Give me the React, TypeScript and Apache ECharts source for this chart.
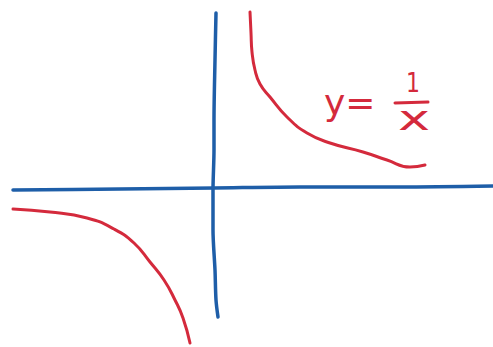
import React, { useEffect, useRef } from "react";
import * as echarts from "echarts";

// Hand-drawn sketch of y = 1/x, coordinates in sketch units (origin at the axes' crossing, y up)
const upperBranch: [number, number][] = [
  [36, 176], [37, 155], [38, 136], [41, 118], [46, 104], [56, 91],
  [73, 71], [93, 55], [116, 45], [149, 36], [173, 28], [196, 21], [211, 23],
];
const lowerBranch: [number, number][] = [
  [-201, -21], [-164, -24], [-127, -30], [-100, -41], [-80, -55], [-64, -74],
  [-50, -92], [-39, -112], [-31, -130], [-24, -155],
];
const verticalAxis: [number, number][] = [
  [2, 175], [1, 128], [0, 68], [0, 38], [-1, -2], [-1, -42], [1, -82], [2, -112], [4, -129],
];
const horizontalAxis: [number, number][] = [
  [-201, -2], [-94, -1], [0, 0], [86, 1], [186, 1], [279, 2],
];
const xRange = [-214, 279];
const yRange = [-159, 188];
const labelLeft = "y=";
const labelNumerator = "1";
const labelDenominator = "x";

const RED = "#d42a3c";
const BLUE = "#1e5ea8";

export default function App() {
  const ref = useRef<HTMLDivElement>(null);
  useEffect(() => {
    const chart = echarts.init(ref.current!, null, { renderer: "svg" });
    const line = (data: [number, number][], color: string, width: number, smooth: number) => ({
      type: "line",
      data,
      smooth,
      symbol: "none",
      lineStyle: { color, width, cap: "round", join: "round" },
      silent: true,
    });
    chart.setOption({
      animation: false,
      backgroundColor: "#ffffff",
      grid: { left: 0, right: 0, top: 0, bottom: 0 },
      xAxis: { type: "value", min: xRange[0], max: xRange[1], show: false },
      yAxis: { type: "value", min: yRange[0], max: yRange[1], show: false },
      series: [
        line(horizontalAxis, BLUE, 3.5, 0.3),
        line(verticalAxis, BLUE, 3.5, 0.3),
        line(upperBranch, RED, 3, 0.5),
        line(lowerBranch, RED, 3, 0.5),
      ],
      graphic: [
        {
          type: "text",
          left: 324,
          top: 84,
          style: {
            text: labelLeft,
            fill: RED,
            font: "36px 'DejaVu Sans'",
          },
        },
        {
          type: "text",
          left: 406,
          top: 70,
          scaleY: 1.2,
          style: { text: labelNumerator, fill: RED, font: "22px 'DejaVu Sans'" },
        },
        {
          type: "line",
          shape: { x1: 395, y1: 103, x2: 428, y2: 102 },
          style: { stroke: RED, lineWidth: 3, lineCap: "round" },
        },
        {
          type: "text",
          left: 398,
          top: 101,
          scaleX: 1.6,
          style: { text: labelDenominator, fill: RED, font: "34px 'DejaVu Sans'" },
        },
      ],
    });
    return () => chart.dispose();
  }, []);
  return (
    <div
      ref={ref}
      style={{ position: "fixed", left: 0, top: 0, width: 493, height: 347 }}
    />
  );
}
